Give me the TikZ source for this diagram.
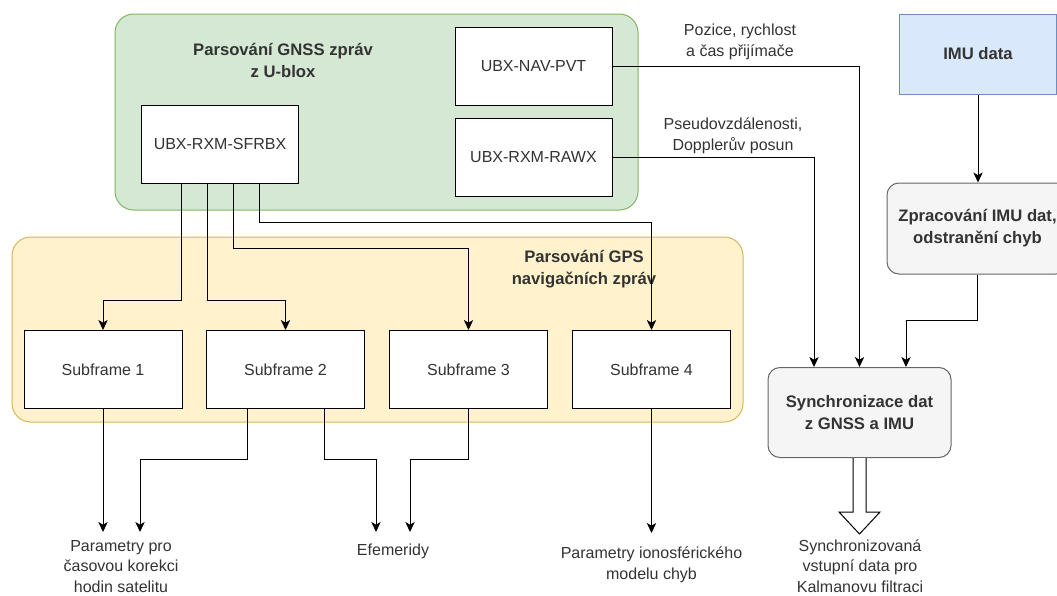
\documentclass[tikz,border=0pt]{standalone}
\usepackage{fontspec}
\setmainfont{Liberation Sans}
\usetikzlibrary{arrows.meta,calc}
\newcommand\pxu{0.75pt}
\definecolor{gnssfill}{HTML}{D5E8D4}
\definecolor{gnssline}{HTML}{82B366}
\definecolor{gpsfill}{HTML}{FFF2CC}
\definecolor{gpsline}{HTML}{D6B656}
\definecolor{imufill}{HTML}{DAE8FC}
\definecolor{imuline}{HTML}{6C8EBF}
\definecolor{procfill}{HTML}{F5F5F5}
\definecolor{procline}{HTML}{666666}
\definecolor{ink}{HTML}{333333}
\begin{document}
\begin{tikzpicture}[x=0.75pt,y=-0.75pt,
  font=\fontsize{12}{15.5}\selectfont,
  every node/.style={text=ink},
  boldfont/.style={font=\fontsize{12.5}{16.5}\selectfont\bfseries},
  group/.style={rounded corners=14pt, line width=0.75pt, inner sep=0pt},
  msgbox/.style={draw=black, fill=white, line width=0.75pt, inner sep=0pt,
    minimum width=157*\pxu, minimum height=78*\pxu, align=center},
  framebox/.style={msgbox, minimum width=158*\pxu},
  procbox/.style={draw=procline, fill=procfill, line width=0.75pt, rounded corners=9pt,
    inner sep=0pt, align=center, boldfont},
  heading/.style={align=center, inner sep=0pt, boldfont},
  outlabel/.style={align=center, inner xsep=2pt, inner ysep=#1, anchor=north},
  conn/.style={draw=black, line width=0.75pt, -{Stealth[length=7.5pt,width=7pt,inset=2pt]}},
  wire/.style={draw=black, line width=0.75pt}]
\useasboundingbox (0,0) rectangle (1057,596);
\clip (0,0) rectangle (1057,596);

% GNSS message parsing group
\node[group, fill=gnssfill, draw=gnssline, minimum width=523*\pxu, minimum height=196*\pxu] (gnss) at (376.5,112) {};
\node[heading] (gnsstitle) at (283,60) {Parsování GNSS zpráv\\z U-blox};
\node[msgbox] (pvt) at (533.5,66.5) {UBX-NAV-PVT};
\node[msgbox] (rawx) at (533.5,157) {UBX-RXM-RAWX};
\node[msgbox] (sfrbx) at (220,144) {UBX-RXM-SFRBX};

% GPS navigation message group
\node[group, fill=gpsfill, draw=gpsline, minimum width=731*\pxu, minimum height=185*\pxu] (gps) at (377.5,329.5) {};
\node[heading] (gpstitle) at (584,269) {Parsování GPS\\navigačních zpráv};
\node[framebox] (sf1) at (103,369.5) {Subframe 1};
\node[framebox] (sf2) at (285.5,369.5) {Subframe 2};
\node[framebox] (sf3) at (468.5,369.5) {Subframe 3};
\node[framebox] (sf4) at (651.5,369.5) {Subframe 4};

% Outputs of the subframes
\node[outlabel=6pt] (clk) at (121,532) {Parametry pro\\časovou korekci\\hodin satelitu};
\node[outlabel=8.5pt] (eph) at (393,532) {Efemeridy};
\node[outlabel=10pt] (iono) at (651.5,533) {Parametry ionosférického\\modelu chyb};

% IMU branch and synchronisation
\node[msgbox, draw=imuline, fill=imufill, minimum width=157*\pxu, minimum height=80*\pxu,
  boldfont] (imu) at (978,54) {IMU data};
\node[procbox, minimum width=181*\pxu, minimum height=91*\pxu] (proc) at (977.5,228.5) {Zpracování IMU dat,\\odstranění chyb};
\node[procbox, minimum width=183*\pxu, minimum height=90*\pxu] (sync) at (859.5,412.5) {Synchronizace dat\\z GNSS a IMU};
\node[outlabel=4.5pt] (syncout) at (860,533) {Synchronizovaná\\vstupní data pro\\Kalmanovu filtraci};

% Edge labels
\node[align=center, inner sep=0pt] (pvtlabel) at (740,42) {Pozice, rychlost\\a čas přijímače};
\node[align=center, inner sep=0pt] (rawxlabel) at (733,136) {Pseudovzdálenosti,\\Dopplerův posun};

% SFRBX to subframes
\draw[conn] ($(sfrbx.south)+(-39,0)$) |- ($(sf1.north)+(0,-30)$) -- (sf1.north);
\draw[conn] ($(sfrbx.south)+(-13,0)$) |- ($(sf2.north)+(0,-30)$) -- (sf2.north);
\draw[conn] ($(sfrbx.south)+(13,0)$) |- ($(sf3.north)+(0,-82)$) -- (sf3.north);
\draw[conn] ($(sfrbx.south)+(39,0)$) |- ($(sf4.north)+(0,-108)$) -- (sf4.north);

% Subframes to outputs
\draw[conn] (sf1.south) -- (sf1.south |- clk.north);
\draw[conn] ($(sf2.south)+(-38.5,0)$) -- ++(0,50) -| ($(clk.north)+(19,0)$);
\draw[conn] ($(sf2.south)+(38.5,0)$) -- ++(0,50) -| ($(eph.north)+(-17,0)$);
\draw[conn] (sf3.south) -- ++(0,50) -| ($(eph.north)+(17,0)$);
\draw[conn] (sf4.south) -- (sf4.south |- iono.north);

% GNSS data and IMU data into synchronisation
\draw[conn] (pvt.east) -| (sync.north);
\draw[conn] (rawx.east) -| ($(sync.north)+(-45.5,0)$);
\draw[conn] (imu.south) -- (imu.south |- proc.north);
\draw[conn] (proc.south) -- ++(0,46) -| ($(sync.north)+(46.5,0)$);

% Block arrow out of synchronisation
\draw[wire, fill=white, line join=miter]
  ($(sync.south)+(-6.5,0)$) -- ++(0,54) -- ++(-14,0) -- ($(sync.south)+(0,76)$)
  -- ($(sync.south)+(20.5,54)$) -- ++(-14,0) -- ($(sync.south)+(6.5,0)$);
\end{tikzpicture}
\end{document}
